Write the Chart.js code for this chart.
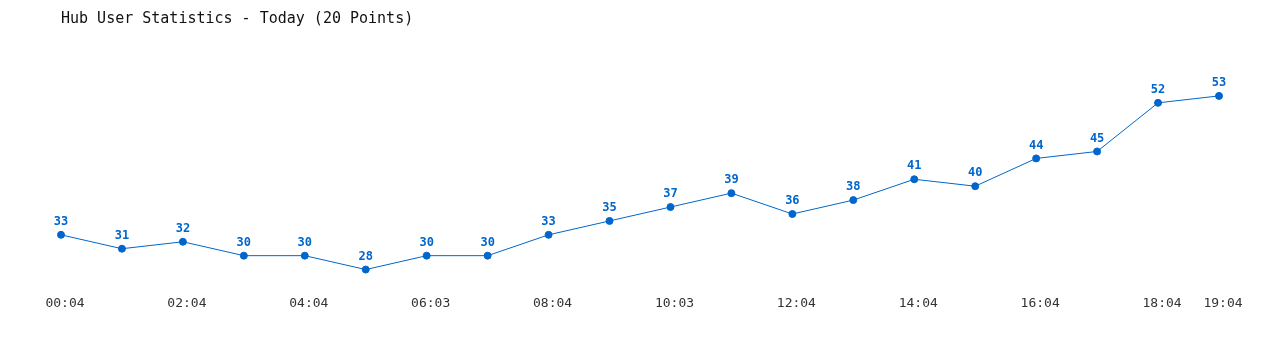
<!DOCTYPE html>
<html>
<head>
<meta charset="utf-8">
<script src="https://cdn.jsdelivr.net/npm/chart.js@4"></script>
<style>
  html, body { margin: 0; padding: 0; background: #fff; }
  #wrap { width: 1280px; height: 350px; }
</style>
</head>
<body>
<div id="wrap"><canvas id="hubChart"></canvas></div>
<script>
var timeLabels = ['00:04', '01:04', '02:04', '03:04', '04:04', '05:04', '06:03', '07:04', '08:04', '09:04',
                  '10:03', '11:04', '12:04', '13:04', '14:04', '15:04', '16:04', '17:04', '18:04', '19:04'];
var userCounts = [33, 31, 32, 30, 30, 28, 30, 30, 33, 35, 37, 39, 36, 38, 41, 40, 44, 45, 52, 53];

var lineColor = '#0066cc';

// draws the value above each point
var valueLabels = {
    id: 'valueLabels',
    afterDatasetsDraw: function (chart) {
        var ctx = chart.ctx;
        var meta = chart.getDatasetMeta(0);
        ctx.save();
        ctx.font = 'bold 12px "DejaVu Sans Mono", monospace';
        ctx.fillStyle = lineColor;
        ctx.textAlign = 'center';
        ctx.textBaseline = 'bottom';
        meta.data.forEach(function (pt, i) {
            ctx.fillText(chart.data.datasets[0].data[i], pt.x, pt.y - 7);
        });
        ctx.restore();
    }
};

var ctx = document.getElementById('hubChart').getContext('2d');
var myChart = new Chart(ctx, {
    type: 'line',
    data: {
        labels: timeLabels,
        datasets: [{
            data: userCounts,
            borderColor: lineColor,
            backgroundColor: lineColor,
            borderWidth: 1,
            pointRadius: 3.5,
            pointHoverRadius: 3.5,
            tension: 0,
            fill: false
        }]
    },
    options: {
        responsive: true,
        maintainAspectRatio: false,
        animation: false,
        layout: {
            padding: { left: 61, right: 61, top: 0, bottom: 34 }
        },
        plugins: {
            legend: { display: false },
            tooltip: { enabled: false },
            title: {
                display: true,
                text: 'Hub User Statistics - Today (20 Points)',
                align: 'start',
                color: '#111',
                font: { family: '"DejaVu Sans Mono", monospace', size: 15, weight: 'normal' },
                padding: { top: 10, bottom: 54 }
            }
        },
        scales: {
            x: {
                offset: false,
                grid: { display: false, drawTicks: false },
                border: { display: false },
                ticks: {
                    autoSkip: false,
                    maxRotation: 0,
                    padding: 5,
                    labelOffset: 4,
                    color: '#333',
                    font: { family: '"DejaVu Sans Mono", monospace', size: 13 },
                    callback: function (val, index) {
                        if (index % 2 === 0 || index === timeLabels.length - 1) {
                            return timeLabels[index];
                        }
                        return '';
                    }
                }
            },
            y: {
                display: false,
                min: 25,
                max: 55
            }
        }
    },
    plugins: [valueLabels]
});
</script>
</body>
</html>
